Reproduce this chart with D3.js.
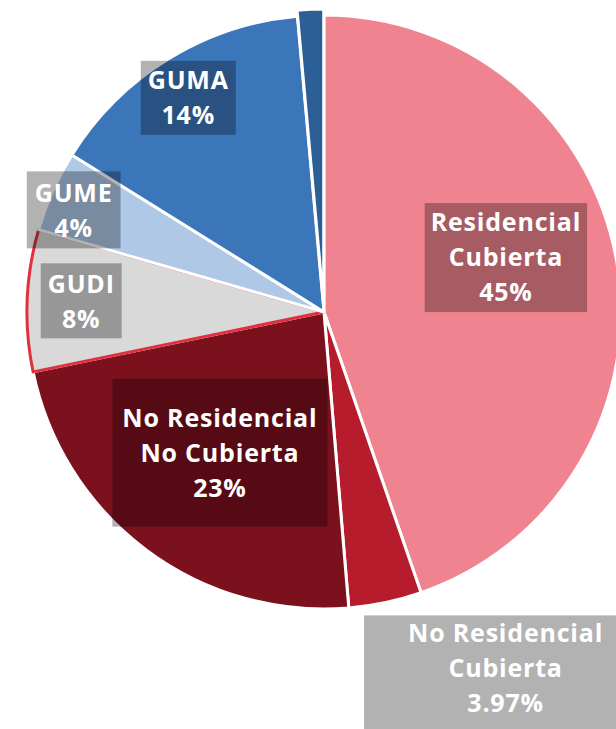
<!DOCTYPE html>
<meta charset="utf-8">
<style>
body { margin: 0; background: #fff; }
.label text {
  font-family: "Open Sans", sans-serif;
  font-weight: 700;
  font-size: 25px;
  fill: #fff;
  letter-spacing: 0.8px;
}
</style>
<svg width="616" height="729"></svg>
<script src="https://d3js.org/d3.v7.min.js"></script>
<script>
// data
var categories = ["Residencial Cubierta", "No Residencial Cubierta", "No Residencial No Cubierta", "GUDI", "GUME", "GUMA", "Otros"];
var values = [44.7, 3.97, 23.1, 7.7, 4.4, 14.7, 1.43];
var labelLines = [["Residencial", "Cubierta"], ["No Residencial", "Cubierta"], ["No Residencial", "No Cubierta"], ["GUDI"], ["GUME"], ["GUMA"], []];
var pctLabels = ["45%", "3.97%", "23%", "8%", "4%", "14%", ""];
var colors = ["#ef8490", "#b71c2c", "#7b111d", "#d9d9d9", "#aec8e6", "#3c76ba", "#2b5f96"];

// layout: label anchor [angle deg, radius px], box padding [x, top, bottom], explode offset
var labelAnchor = [[73.2, 190], [153, 400], [216.5, 175], [272.4, 243], [292, 270], [327.7, 254], null];
var labelPad = [[6, 10, 11], [44, 9, 40], [10, 30, 30], [7, 12, 10], [8, 13, 11], [7, 10, 11], null];
var explode = [0, 0, 0, 0, 0, 0, 6];

var svg = d3.select("svg"),
    cx = 324, cy = 312, radius = 297,
    lh = 35, capH = 18,
    g = svg.append("g").attr("transform", "translate(" + cx + "," + cy + ")");

var pie = d3.pie().sort(null).value(function(d) { return d; });
var arcs = pie(values);
var arc = d3.arc().innerRadius(0).outerRadius(radius);

g.selectAll("path.slice")
    .data(arcs)
  .enter().append("path")
    .attr("class", "slice")
    .attr("d", arc)
    .attr("fill", function(d, i) { return colors[i]; })
    .attr("stroke", function(d, i) { return i === 3 ? "#e0303f" : "#fff"; })
    .attr("stroke-width", 3)
    .attr("stroke-linejoin", "round")
    .attr("transform", function(d, i) {
      var a = (d.startAngle + d.endAngle) / 2;
      return "translate(" + explode[i] * Math.sin(a) + "," + (-explode[i] * Math.cos(a)) + ")";
    });

arcs.forEach(function(d, i) {
  if (!labelAnchor[i]) return;
  var a = labelAnchor[i][0] * Math.PI / 180, r = labelAnchor[i][1];
  var lines = labelLines[i].concat([pctLabels[i]]);
  var n = lines.length;
  var lab = g.append("g")
      .attr("class", "label")
      .attr("transform", "translate(" + r * Math.sin(a) + "," + (-r * Math.cos(a)) + ")");
  var box = lab.append("rect").attr("fill", "#000").attr("fill-opacity", 0.3);
  var text = lab.append("text").attr("text-anchor", "middle");
  lines.forEach(function(t, j) {
    text.append("tspan")
        .attr("x", 0)
        .attr("y", (j - (n - 1) / 2) * lh + capH / 2)
        .text(t);
  });
  var w = text.node().getBBox().width;
  var p = labelPad[i];
  var top = -(n - 1) / 2 * lh + capH / 2 - capH;
  box.attr("x", -w / 2 - p[0])
     .attr("width", w + 2 * p[0])
     .attr("y", top - p[1])
     .attr("height", (n - 1) * lh + capH + p[1] + p[2]);
});
</script>
